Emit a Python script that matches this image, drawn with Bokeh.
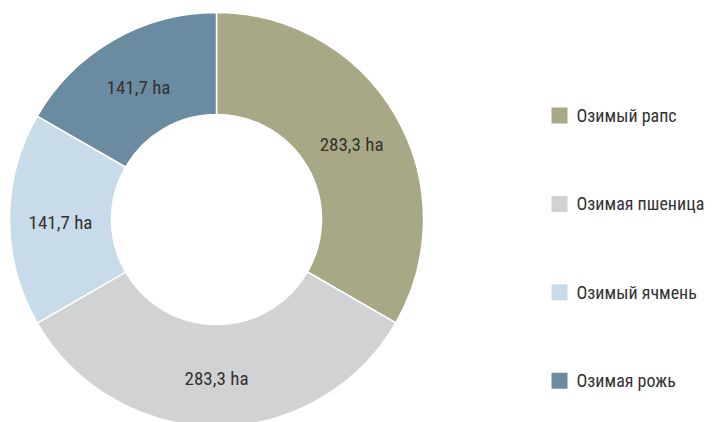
import math
from bokeh.plotting import figure
from bokeh.models import Range1d, ColumnDataSource
from bokeh.core.properties import value
from bokeh.embed import file_html
from bokeh.resources import INLINE

# ---- data ----
categories = ["Озимый рапс", "Озимая пшеница", "Озимый ячмень", "Озимая рожь"]
areas = [283.3, 283.3, 141.7, 141.7]
labels = ["283,3 ha", "283,3 ha", "141,7 ha", "141,7 ha"]
colors = ["#A9A886", "#D1D2D4", "#C7DBE8", "#6A8BA0"]

# ---- layout ----
W, H = 712, 422
CX, CY = 216, H - 219
R_OUT, R_IN = 207, 105
FONT = value("Roboto Condensed")
TEXT_COLOR = "#333333"

total = sum(areas)
starts, ends, lx, ly = [], [], [], []
cum = 0.0
for a in areas:
    s = math.pi / 2 - cum / total * 2 * math.pi
    cum += a
    e = math.pi / 2 - cum / total * 2 * math.pi
    starts.append(s)
    ends.append(e)
    mid = (s + e) / 2
    rm = (R_OUT + R_IN) / 2
    lx.append(CX + rm * math.cos(mid))
    ly.append(CY + rm * math.sin(mid) - 3)

src = ColumnDataSource(dict(start=starts, end=ends, color=colors, lx=lx, ly=ly, label=labels))

p = figure(width=W, height=H, output_backend="svg", toolbar_location=None,
           x_range=Range1d(0, W), y_range=Range1d(0, H),
           x_axis_type=None, y_axis_type=None, min_border=0)
p.outline_line_color = None
p.grid.visible = False
p.background_fill_color = "white"
p.border_fill_color = "white"

p.annular_wedge(x=CX, y=CY, inner_radius=R_IN, outer_radius=R_OUT,
                start_angle="start", end_angle="end", direction="clock",
                fill_color="color", line_color="white", line_width=1.5, source=src)

p.text(x="lx", y="ly", text="label", source=src, text_align="center",
       text_baseline="middle", text_font=FONT, text_font_size="19px",
       text_color=TEXT_COLOR)

# legend
LEG_X = 559
leg_y = [H - (115 + i * 88.4) for i in range(len(categories))]
leg_src = ColumnDataSource(dict(y=leg_y, color=colors, name=categories,
                                tx=[LEG_X + 17] * len(categories)))
p.rect(x=LEG_X, y="y", width=16, height=16, fill_color="color", line_color=None,
       source=leg_src)
p.text(x="tx", y="y", text="name", source=leg_src, text_align="left",
       text_baseline="middle", text_font=FONT, text_font_size="18px",
       text_color=TEXT_COLOR)

open("out.html", "w").write(file_html(p, INLINE))
